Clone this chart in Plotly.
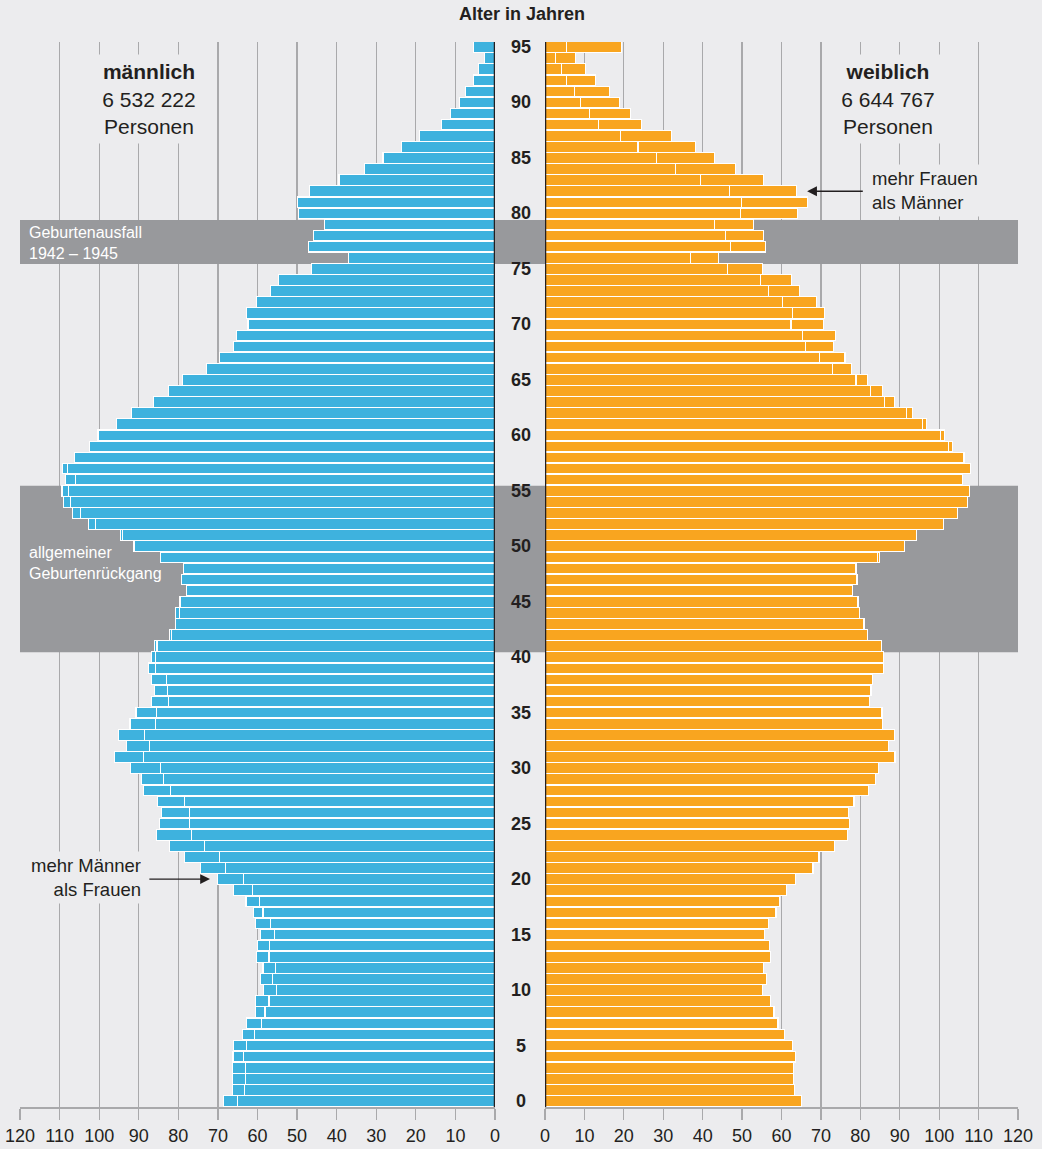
import plotly.graph_objects as go

# ---------------- data (thousands of persons) ----------------
ages = list(range(0, 96))

male = [68.6, 66.4, 66.3, 66.3, 66.2, 66.0, 63.7, 62.7, 60.6, 60.6,
        58.5, 59.3, 58.6, 60.2, 60.1, 59.2, 60.4, 61.1, 62.9, 66.0,
        70.0, 74.4, 78.5, 82.2, 85.5, 84.8, 84.3, 85.3, 88.9, 89.3,
        92.1, 96.2, 93.2, 95.1, 92.2, 90.7, 86.7, 86.0, 86.7, 87.5,
        86.7, 86.1, 82.2, 80.7, 80.7, 79.6, 78.0, 79.1, 78.8, 84.4,
        91.3, 94.5, 102.8, 106.8, 109.1, 109.4, 108.6, 109.2, 106.3, 102.4,
        100.3, 95.7, 91.8, 86.2, 82.5, 78.9, 72.9, 69.7, 66.0, 65.3,
        62.4, 62.7, 60.2, 56.8, 54.6, 46.3, 36.9, 47.1, 45.9, 43.1,
        49.7, 49.9, 46.8, 39.4, 33.0, 28.3, 23.6, 19.1, 13.5, 11.2,
        9.0, 7.4, 5.5, 4.1, 2.6, 5.5]

female = [65.1, 63.2, 63.0, 63.0, 63.5, 62.8, 60.7, 59.1, 58.1, 57.1,
          55.2, 56.3, 55.4, 57.1, 57.0, 55.7, 56.8, 58.6, 59.4, 61.3,
          63.6, 68.0, 69.5, 73.4, 76.7, 77.2, 77.1, 78.4, 82.0, 83.8,
          84.5, 88.8, 87.2, 88.6, 85.7, 85.5, 82.4, 82.7, 83.1, 85.8,
          85.8, 85.4, 81.8, 81.0, 79.8, 79.4, 77.9, 79.2, 78.9, 84.9,
          91.2, 94.2, 101.0, 104.7, 107.2, 107.7, 105.9, 108.0, 106.5, 103.3,
          101.3, 96.7, 93.2, 88.7, 85.7, 81.9, 77.7, 76.1, 73.1, 73.6,
          70.7, 70.8, 68.8, 64.5, 62.6, 55.1, 44.0, 55.9, 55.4, 53.0,
          64.0, 66.6, 63.7, 55.4, 48.3, 43.1, 38.1, 32.2, 24.4, 21.7,
          18.8, 16.3, 12.9, 10.2, 7.8, 19.3]

x_ticks = list(range(0, 121, 10))
age_ticks = list(range(0, 96, 5))

band_ranges = [(40.45, 55.45), (75.45, 79.4)]
band_labels = ["allgemeiner<br>Geburtenrückgang", "Geburtenausfall<br>1942 – 1945"]
band_label_ages = [48.5, 77.3]

male_total = "6 532 222"
female_total = "6 644 767"

# ---------------- styling ----------------
W, H = 1042, 1149
BG = '#ececee'
BLUE = '#3eb2de'
ORANGE = '#f9a51f'
BAND = '#98999c'
GRID = '#a9a9ab'
INK = '#231f20'
FONT = 'Liberation Sans, Arial, Helvetica, sans-serif'

Y0, Y1 = -0.54, 95.45

base = [min(m, f) for m, f in zip(male, female)]
m_extra = [round(m - f, 2) if m > f else None for m, f in zip(male, female)]
f_extra = [round(f - m, 2) if f > m else None for m, f in zip(male, female)]

fig = go.Figure()
bar_kw = dict(orientation='h', marker_line_color='white', marker_line_width=1.1,
              hoverinfo='skip', showlegend=False)
fig.add_trace(go.Bar(x=base, y=ages, xaxis='x', yaxis='y', marker_color=BLUE, **bar_kw))
fig.add_trace(go.Bar(x=m_extra, y=ages, xaxis='x', yaxis='y', marker_color=BLUE, **bar_kw))
fig.add_trace(go.Bar(x=base, y=ages, xaxis='x2', yaxis='y', marker_color=ORANGE, **bar_kw))
fig.add_trace(go.Bar(x=f_extra, y=ages, xaxis='x2', yaxis='y', marker_color=ORANGE, **bar_kw))

axis_common = dict(
    tickvals=x_ticks, ticks='outside', ticklen=11, tickwidth=1.3, tickcolor=GRID,
    showline=True, linecolor=GRID, linewidth=1.5,
    showgrid=True, gridcolor=GRID, gridwidth=1.3, zeroline=False,
    tickfont=dict(size=18, color=INK, family=FONT), anchor='y', fixedrange=True,
    ticklabelstandoff=1, automargin=False,
)

fig.update_layout(
    template='none',
    width=W, height=H, margin=dict(l=0, r=0, t=0, b=0, pad=0),
    paper_bgcolor=BG, plot_bgcolor=BG, barmode='stack', bargap=0.04,
    font=dict(family=FONT, color=INK),
    xaxis=dict(domain=[20 / W, 495 / W], range=[120, 0], **axis_common),
    xaxis2=dict(domain=[545 / W, 1018 / W], range=[0, 120], **axis_common),
    yaxis=dict(domain=[(H - 1107) / H, (H - 42) / H], range=[Y0, Y1],
               visible=False, fixedrange=True, anchor='x', automargin=False),
)

shapes = []
for (a0, a1) in band_ranges:
    for xr in ('x', 'x2'):
        shapes.append(dict(type='rect', xref=xr, yref='y', x0=0, x1=120, y0=a0, y1=a1,
                           fillcolor=BAND, line=dict(width=0), layer='between'))
    shapes.append(dict(type='rect', xref='paper', yref='y', x0=495 / W, x1=545 / W,
                       y0=a0, y1=a1, fillcolor=BAND, line=dict(width=0), layer='below'))
for xr in ('x', 'x2'):
    shapes.append(dict(type='line', xref=xr, yref='y', x0=0, x1=0, y0=Y0, y1=Y1,
                       line=dict(color=INK, width=2.5), layer='above'))
fig.update_layout(shapes=shapes)

ann = []
# age labels in the middle column
for a in age_ticks:
    ann.append(dict(xref='paper', yref='y', x=520.5 / W, y=a, text=f"<b>{a}</b>",
                    showarrow=False, xanchor='center', yanchor='middle',
                    font=dict(size=18, color=INK, family=FONT)))
# title
ann.append(dict(xref='paper', yref='paper', x=522 / W, y=(H - 14) / H,
                text="<b>Alter in Jahren</b>", showarrow=False,
                xanchor='center', yanchor='middle', font=dict(size=18, color=INK)))
# totals
ann.append(dict(xref='paper', yref='paper', x=149 / W, y=(H - 99) / H,
                text=f"<b>männlich</b><br>{male_total}<br>Personen", showarrow=False,
                xanchor='center', yanchor='middle', align='center', width=112, height=80,
                bgcolor=BG, borderpad=4, font=dict(size=21, color=INK)))
ann.append(dict(xref='paper', yref='paper', x=887.5 / W, y=(H - 99) / H,
                text=f"<b>weiblich</b><br>{female_total}<br>Personen", showarrow=False,
                xanchor='center', yanchor='middle', align='center', width=112, height=80,
                bgcolor=BG, borderpad=4, font=dict(size=21, color=INK)))
# call-outs
ann.append(dict(xref='paper', yref='paper', x=868 / W, y=(H - 191) / H,
                text="mehr Frauen<br>als Männer", showarrow=False,
                xanchor='left', yanchor='middle', align='left', width=114,
                bgcolor=BG, borderpad=3, font=dict(size=18.5, color=INK)))
ann.append(dict(xref='x2', yref='y', x=66.5, y=82, axref='x2', ayref='y', ax=81, ay=82,
                text="", showarrow=True, arrowhead=2, arrowsize=1.4, arrowwidth=1.4,
                arrowcolor=INK))
ann.append(dict(xref='paper', yref='paper', x=145 / W, y=(H - 877) / H,
                text="mehr Männer<br>als Frauen", showarrow=False,
                xanchor='right', yanchor='middle', align='right', width=114,
                bgcolor=BG, borderpad=3, font=dict(size=18.5, color=INK)))
ann.append(dict(xref='x', yref='y', x=72.0, y=20, axref='x', ayref='y', ax=87.7, ay=20,
                text="", showarrow=True, arrowhead=2, arrowsize=1.4, arrowwidth=1.4,
                arrowcolor=INK))
# band labels
for lab, a in zip(band_labels, band_label_ages):
    ann.append(dict(xref='paper', yref='y', x=27 / W, y=a, text=lab, showarrow=False,
                    xanchor='left', yanchor='middle', align='left',
                    font=dict(size=16, color='white')))
fig.update_layout(annotations=ann)

fig.write_html(
    "out.html",
    config={'displayModeBar': False, 'staticPlot': True},
    post_script="document.body.style.margin='0';document.body.style.background='#ececee';",
)
